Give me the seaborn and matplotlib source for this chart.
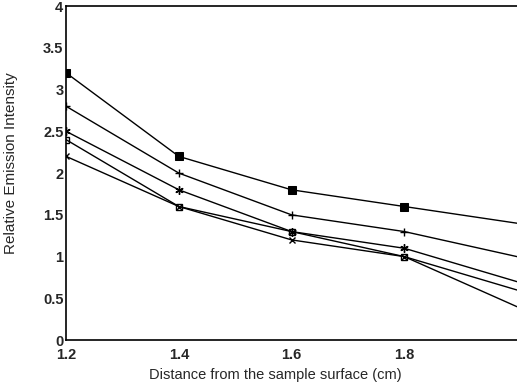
import matplotlib
matplotlib.use("Agg")
import matplotlib.pyplot as plt
import seaborn as sns
import pandas as pd

distance = [1.2, 1.4, 1.6, 1.8, 2.0]
s_filled_sq = [3.2, 2.2, 1.8, 1.6, 1.4]
s_plus = [2.8, 2.0, 1.5, 1.3, 1.0]
s_star = [2.5, 1.8, 1.3, 1.1, 0.7]
s_open_sq = [2.4, 1.6, 1.3, 1.0, 0.6]
s_cross = [2.2, 1.6, 1.2, 1.0, 0.4]

sns.set_style("white")
plt.rcParams['font.family'] = ['Liberation Sans', 'DejaVu Sans']

fig = plt.figure(figsize=(5.17, 3.83), dpi=100)
ax = fig.add_axes([0.128, 0.112, 0.872, 0.872])

series = [
    (s_filled_sq, dict(marker='s', markersize=6, markerfacecolor='black', markeredgecolor='black')),
    (s_plus, dict(marker='+', markersize=6, markeredgecolor='black', markeredgewidth=1)),
    (s_star, dict(marker=(6, 2, 0), markersize=6, markeredgecolor='black', markeredgewidth=1)),
    (s_open_sq, dict(marker='s', markersize=4, markerfacecolor='none', markeredgecolor='black', markeredgewidth=1)),
    (s_cross, dict(marker='x', markersize=5, markeredgecolor='black', markeredgewidth=1)),
]
for vals, kw in series:
    df = pd.DataFrame({"x": distance, "y": vals})
    sns.lineplot(data=df, x="x", y="y", ax=ax, color='black', linewidth=1.0,
                 markevery=[0, 1, 2, 3], **kw)

ax.set_xlim(1.2, 2.0)
ax.set_ylim(0, 4)
ax.set_xticks([1.2, 1.4, 1.6, 1.8])
ax.set_xticklabels(["1.2", "1.4", "1.6", "1.8"])
ax.set_yticks([0, 0.5, 1, 1.5, 2, 2.5, 3, 3.5, 4])
ax.set_yticklabels(["0", "0.5", "1", "1.5", "2", "2.5", "3", "3.5", "4"])
ax.tick_params(axis='both', direction='in', length=3, width=0.8, labelsize=10.5)
ax.tick_params(axis='x', pad=6)
ax.tick_params(axis='y', pad=2)
for lab in ax.get_xticklabels() + ax.get_yticklabels():
    lab.set_fontweight('bold')
ax.set_xlabel("Distance from the sample surface (cm)", fontsize=10.5)
ax.set_ylabel("Relative Emission Intensity", fontsize=11)
ax.xaxis.set_label_coords(0.463, -0.085)
ax.yaxis.set_label_coords(-0.106, 0.53)
for s in ['left', 'bottom', 'top']:
    ax.spines[s].set_color('black')
    ax.spines[s].set_linewidth(1.2)
ax.spines['right'].set_visible(False)

fig.savefig("out.png", dpi=100)
